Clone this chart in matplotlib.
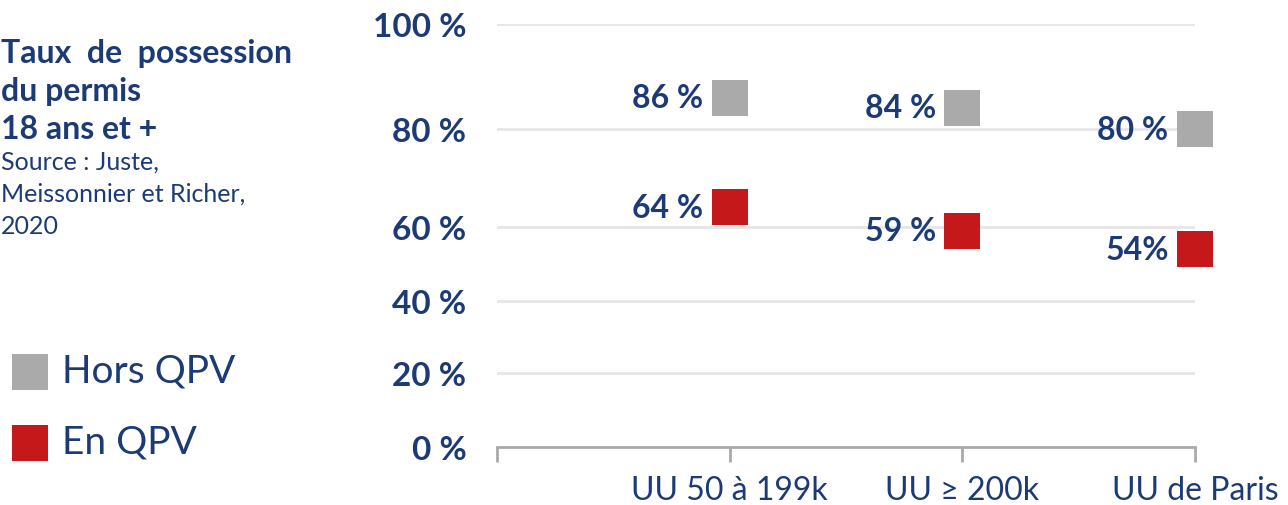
import numpy as np
import matplotlib.pyplot as plt

# data
categories = ['', 'UU 50 à 199k', 'UU ≥ 200k', 'UU de Paris']
hors_qpv = [86, 84, 80]
en_qpv = [64, 59, 54]
hors_labels = ['86 %', '84 %', '80 %']
en_labels = ['64 %', '59 %', '54%']
yticks = [0, 20, 40, 60, 80, 100]
ytick_labels = ['0 %', '20 %', '40 %', '60 %', '80 %', '100 %']

title_lines = ['Taux  de  possession', 'du permis', '18 ans et +']
source_lines = ['Source : Juste,', 'Meissonnier et Richer,', '2020']

navy = '#1c3b76'
grey = '#aaaaaa'
red = '#c4181a'

# the original axis is not linear (upper band stretched), so map it piecewise
scale_in = [0, 20, 40, 60, 80, 100]
scale_out = [0, 74, 146, 220, 318, 423]


def fwd(v):
    return np.interp(v, scale_in, scale_out)


def inv(v):
    return np.interp(v, scale_out, scale_in)


plt.rcParams['font.family'] = ['Lato', 'DejaVu Sans']

fig = plt.figure(figsize=(12.88, 5.06), dpi=100)
ax = fig.add_axes([497 / 1288, 58 / 506, 698 / 1288, 423 / 506])
ax.set_yscale('function', functions=(fwd, inv))
ax.set_ylim(0, 100)
ax.set_xlim(0, 3)

x = np.arange(1, 4)
h1 = ax.scatter(x, hors_qpv, marker='s', s=26 ** 2, color=grey, linewidths=0,
                clip_on=False, zorder=3, label='Hors QPV')
h2 = ax.scatter(x, en_qpv, marker='s', s=26 ** 2, color=red, linewidths=0,
                clip_on=False, zorder=3, label='En QPV')

for xi, v, lab in zip(x, hors_qpv, hors_labels):
    ax.annotate(lab, (xi, v), xytext=(-19, 0), textcoords='offset points',
                ha='right', va='center', fontsize=23, fontweight='bold', color=navy)
for xi, v, lab in zip(x, en_qpv, en_labels):
    ax.annotate(lab, (xi, v), xytext=(-19, 0), textcoords='offset points',
                ha='right', va='center', fontsize=23, fontweight='bold', color=navy)

ax.set_yticks(yticks, ytick_labels)
ax.yaxis.grid(True, color='#e6e6e6', linewidth=2)
ax.set_axisbelow(True)
ax.tick_params(axis='y', length=0, pad=22, labelsize=24, labelcolor=navy)
for t in ax.get_yticklabels():
    t.set_fontweight('bold')

ax.set_xticks(range(4), categories)
ax.tick_params(axis='x', length=11, width=2, color=grey, pad=9,
               labelsize=23, labelcolor=navy)

for s in ['left', 'top', 'right']:
    ax.spines[s].set_visible(False)
ax.spines['bottom'].set_color(grey)
ax.spines['bottom'].set_linewidth(2)

# title block on the left
for i, line in enumerate(title_lines):
    fig.text(0.001, 1 - (63 + 38 * i) / 506, line, fontsize=23, fontweight='bold',
             color=navy, va='baseline', ha='left')
for i, line in enumerate(source_lines):
    fig.text(0.001, 1 - (170 + 32 * i) / 506, line, fontsize=18,
             color=navy, va='baseline', ha='left')

fig.legend(handles=[h1, h2], loc='upper left', bbox_to_anchor=(11 / 1288, 1 - 354 / 506),
           frameon=False, labelcolor=navy, handletextpad=0.3, borderpad=0,
           labelspacing=0.9, borderaxespad=0, handlelength=1.0,
           prop={'size': 28})

fig.savefig('out.png', dpi=100)
